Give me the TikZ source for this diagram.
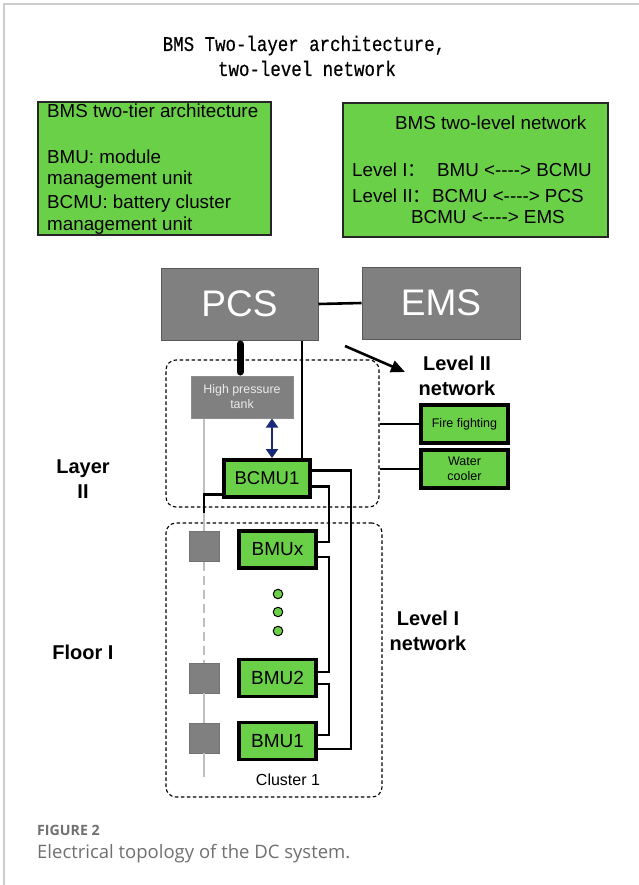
\documentclass[tikz,border=0pt]{standalone}
\usepackage{fontspec}
\setmainfont{Liberation Sans}[Ligatures=TeXOff]
\newfontfamily\titlefont[FakeStretch=0.83,FakeBold=0.4]{Liberation Mono}
\newfontfamily\capfont{Open Sans}
\newfontfamily\cjk{Noto Sans CJK SC}
\usetikzlibrary{arrows.meta}
\definecolor{bgreen}{RGB}{106,208,72}
\definecolor{bgray}{RGB}{128,128,128}
\definecolor{navy}{RGB}{25,40,120}
\definecolor{lgray}{RGB}{190,190,190}
\definecolor{framegray}{RGB}{205,205,205}
\definecolor{capgray}{RGB}{112,112,112}
\begin{document}
\begin{tikzpicture}[x=1pt,y=-1pt,
  infobox/.style={draw=black!85, line width=1.6pt, fill=bgreen, inner sep=0pt},
  gbox/.style={draw=black, line width=3.8pt, fill=bgreen, inner sep=0pt},
  graybox/.style={draw=black!65, line width=1pt, fill=bgray, text=white, inner sep=0pt},
  sqbox/.style={draw=black!55, line width=0.8pt, fill=bgray, inner sep=0pt, minimum width=30pt, minimum height=30pt},
  dashbox/.style={draw=black, dash pattern=on 3.5pt off 2.5pt, rounded corners=10pt, line width=1.1pt, inner sep=0pt},
  wire/.style={draw=black, line width=2.8pt},
  btxt/.style={anchor=base west, inner sep=0pt, font=\fontsize{18.8}{22}\selectfont},
  lbl/.style={align=center, inner sep=0pt, font=\fontsize{20}{25}\selectfont\bfseries},
  dot/.style={circle, draw=black, line width=1pt, fill=bgreen, minimum size=9.5pt, inner sep=0pt},
  glin/.style={draw=lgray, line width=1.8pt}
]
\useasboundingbox (0,0) rectangle (639,885);
\fill[white] (0,0) rectangle (639,885);
\draw[framegray, line width=1.5pt] (4,885) -- (4,4) -- (639,4);

% title
\node[anchor=base, inner sep=0pt, font=\titlefont\fontsize{21}{25}\selectfont] (t1) at (304,51) {BMS Two-layer architecture,};
\node[anchor=base, inner sep=0pt, font=\titlefont\fontsize{21}{25}\selectfont] (t2) at (307,76) {two-level network};

% left info box
\node[infobox, minimum width=233pt, minimum height=133pt] (lbox) at (154.5,168.5) {};
\node[btxt] (l1) at (47,118) {BMS two-tier architecture};
\node[btxt] (l2) at (47,164) {BMU: module};
\node[btxt] (l3) at (47,185) {management unit};
\node[btxt] (l4) at (47,209) {BCMU: battery cluster};
\node[btxt] (l5) at (47,230) {management unit};

% right info box
\node[infobox, minimum width=265pt, minimum height=134pt] (rbox) at (475.5,170) {};
\node[btxt] (r1) at (395,130) {BMS two-level network};
\node[btxt] (r2) at (352,177) {Level I{\cjk ：}};
\node[btxt] (r3) at (437,177) {BMU <----> BCMU};
\node[btxt] (r4) at (352,203) {Level II{\cjk ：}};
\node[btxt] (r5) at (432,203) {BCMU <----> PCS};
\node[btxt] (r6) at (411,224) {BCMU <----> EMS};

% PCS / EMS
\node[graybox, minimum width=157pt, minimum height=72pt, font=\fontsize{37}{40}\selectfont] (pcs) at (239.5,304) {PCS};
\node[graybox, minimum width=158pt, minimum height=72pt, font=\fontsize{37}{40}\selectfont] (ems) at (441,303) {EMS};
\draw[line width=2.6pt] (pcs.east) -- (ems.west);

% dashed groups
\node[dashbox, minimum width=213pt, minimum height=147pt] (L2) at (272.5,433.5) {};
\node[dashbox, minimum width=216pt, minimum height=274pt] (cl) at (274,660) {};

% tank and BCMU
\node[graybox, draw=black!45, minimum width=102pt, minimum height=42pt, text=white!92!black, align=center, font=\fontsize{12.4}{15}\selectfont] (tank) at (242,397) {High pressure\\tank};
\node[gbox, minimum width=86pt, minimum height=37pt, font=\fontsize{18.5}{22}\selectfont] (bcmu) at (267,478.5) {BCMU1};

\coordinate (tk) at (240,0);
\coordinate (pw) at (302,0);
\coordinate (da) at (272,0);
\draw[line width=7pt, line cap=round, shorten <=3.5pt, shorten >=3.5pt] (pcs.south -| tk) -- (tank.north -| tk);
\draw[line width=2.6pt] (pcs.south -| pw) -- (bcmu.north -| pw);
\draw[navy, line width=2pt, {Triangle[length=9pt,width=12pt]}-{Triangle[length=9pt,width=12pt]}] (tank.south -| da) -- (bcmu.north -| da);

% level II arrow and label
\coordinate (a1) at (345,346);
\coordinate (a2) at (405,372);
\draw[line width=2.6pt, -{Triangle[length=14pt,width=12pt]}] (a1) -- (a2);
\node[lbl] (lvl2) at (457,375.5) {Level II\\network};

% fire fighting / water cooler
\node[gbox, minimum width=87pt, minimum height=38pt, font=\fontsize{12.5}{15}\selectfont] (ff) at (464.5,424) {Fire fighting};
\node[gbox, minimum width=87pt, minimum height=38pt, align=center, font=\fontsize{12.5}{15}\selectfont] (wc) at (464.5,469) {Water\\cooler};
\draw[line width=2.6pt] (L2.east |- ff.west) -- (ff.west);
\draw[line width=2.6pt] (L2.east |- wc.west) -- (wc.west);

% BMUs
\node[gbox, minimum width=77pt, minimum height=37pt, font=\fontsize{19}{22}\selectfont] (bmux) at (277.5,549.5) {BMUx};
\node[gbox, minimum width=77pt, minimum height=37pt, font=\fontsize{19}{22}\selectfont] (bmu2) at (277.5,678) {BMU2};
\node[gbox, minimum width=77pt, minimum height=37pt, font=\fontsize{19}{22}\selectfont] (bmu1) at (277.5,741) {BMU1};
\node[dot] (d1) at (278,594) {};
\node[dot] (d2) at (278,612) {};
\node[dot] (d3) at (278,631) {};

% gray squares and string line
\node[sqbox] (s1) at (204,546.5) {};
\node[sqbox] (s2) at (204,678) {};
\node[sqbox] (s3) at (204,738) {};
\coordinate (bj) at ([yshift=-16pt]bcmu.west);
\coordinate (gx) at (204,0);
\coordinate (bk) at (204,513);
\coordinate (ge) at (204,777);
\draw[glin] (tank.south -| gx) -- (bj -| gx);
\draw[wire, line width=2.4pt] (bj) -- (bj -| gx) -- (bk);
\draw[glin] (bk) -- (s1.north);
\draw[glin, dash pattern=on 9pt off 5pt] (s1.south) -- (s2.north);
\draw[glin] (s2.south) -- (s3.north);
\draw[glin] (s3.south) -- (ge);

% wires
\coordinate (wA) at (351,0);
\coordinate (wB) at (329,0);
\coordinate (c1) at ([yshift=8pt]bcmu.east);
\coordinate (c2) at ([yshift=-8pt]bcmu.east);
\coordinate (x1) at ([yshift=7.5pt]bmux.east);
\coordinate (x2) at ([yshift=-7.5pt]bmux.east);
\coordinate (m1) at ([yshift=6pt]bmu2.east);
\coordinate (m2) at ([yshift=-6pt]bmu2.east);
\coordinate (n1) at ([yshift=6pt]bmu1.east);
\coordinate (n2) at ([yshift=-8pt]bmu1.east);
\draw[wire] (c1) -| (wA |- n2) -- (n2);
\draw[wire] (c2) -| (wB |- x1) -- (x1);
\draw[wire] (x2) -| (wB |- m1) -- (m1);
\draw[wire] (m2) -| (wB |- n1) -- (n1);

% side labels
\node[lbl] (lay2) at (83,479.5) {Layer\\II};
\node[lbl] (fl1) at (83,652) {Floor I};
\node[lbl] (lvl1) at (428,630.5) {Level I\\network};
\node[inner sep=0pt, font=\fontsize{16}{19}\selectfont] (c1lbl) at (288,780) {Cluster 1};

% caption
\node[anchor=base west, inner sep=0pt, text=capgray, font=\capfont\bfseries\fontsize{14.2}{16}\selectfont] (fig) at (37,835) {FIGURE 2};
\node[anchor=base west, inner sep=0pt, text=capgray, font=\capfont\fontsize{18.5}{22}\selectfont] (cap) at (37,858) {Electrical topology of the DC system.};
\end{tikzpicture}
\end{document}
